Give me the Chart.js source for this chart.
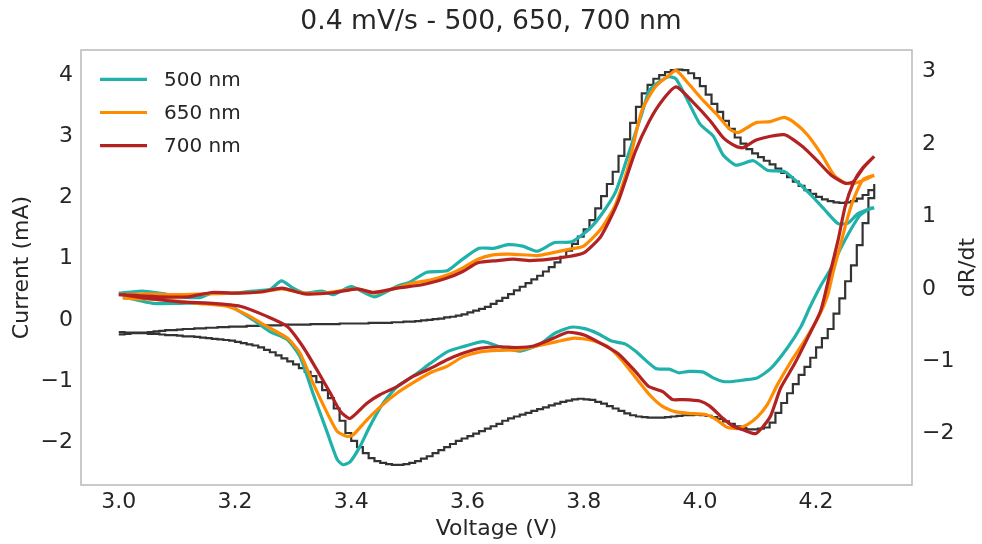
<!DOCTYPE html>
<html lang="en">
<head>
<meta charset="UTF-8">
<title>0.4 mV/s - 500, 650, 700 nm</title>
<script src="https://cdn.jsdelivr.net/npm/chart.js"></script>
<style>
    body { margin: 0; background: #fff; }
    canvas { display: block; }
</style>
</head>
<body>
<canvas id="cvChart" width="982" height="544"></canvas>
<script>
// cyclic voltammogram (left axis, mA) - forward and reverse scan, 10 mV steps
const voltFwd = [3.00,3.01,3.02,3.03,3.04,3.05,3.06,3.07,3.08,3.09,
    3.10,3.11,3.12,3.13,3.14,3.15,3.16,3.17,3.18,3.19,
    3.20,3.21,3.22,3.23,3.24,3.25,3.26,3.27,3.28,3.29,
    3.30,3.31,3.32,3.33,3.34,3.35,3.36,3.37,3.38,3.39,
    3.40,3.41,3.42,3.43,3.44,3.45,3.46,3.47,3.48,3.49,
    3.50,3.51,3.52,3.53,3.54,3.55,3.56,3.57,3.58,3.59,3.60,
    3.61,3.62,3.63,3.64,3.65,3.66,3.67,3.68,3.69,3.70,
    3.71,3.72,3.73,3.74,3.75,3.76,3.77,3.78,3.79,3.80,
    3.81,3.82,3.83,3.84,3.85,3.86,3.87,3.88,3.89,3.90,
    3.91,3.92,3.93,3.94,3.95,3.96,3.97,3.98,3.99,4.00,
    4.01,4.02,4.03,4.04,4.05,4.06,4.07,4.08,4.09,4.10,
    4.11,4.12,4.13,4.14,4.15,4.16,4.17,4.18,4.19,4.20,
    4.21,4.22,4.23,4.24,4.25,4.26,4.27,4.28,4.29,4.30];
const currentFwd = [-0.24,-0.23,-0.22,-0.21,-0.21,-0.20,-0.19,-0.18,-0.17,-0.17,
    -0.16,-0.15,-0.15,-0.14,-0.14,-0.13,-0.13,-0.12,-0.12,-0.11,
    -0.11,-0.11,-0.10,-0.10,-0.10,-0.09,-0.09,-0.09,-0.08,-0.08,
    -0.08,-0.08,-0.08,-0.07,-0.07,-0.07,-0.07,-0.07,-0.06,-0.06,
    -0.06,-0.06,-0.06,-0.05,-0.05,-0.05,-0.05,-0.04,-0.04,-0.03,
    -0.03,-0.02,-0.01,0.00,0.01,0.02,0.04,0.05,0.07,0.09,0.12,
    0.15,0.18,0.21,0.26,0.31,0.36,0.42,0.48,0.54,0.60,
    0.66,0.72,0.79,0.86,0.94,1.03,1.13,1.24,1.36,1.48,
    1.63,1.82,2.02,2.22,2.42,2.68,2.95,3.22,3.48,3.70,
    3.84,3.94,4.00,4.05,4.08,4.09,4.08,4.03,3.95,3.82,
    3.68,3.53,3.40,3.25,3.12,2.98,2.88,2.79,2.72,2.66,
    2.60,2.54,2.47,2.40,2.33,2.26,2.19,2.12,2.06,2.01,
    1.97,1.94,1.92,1.91,1.92,1.94,1.98,2.04,2.12,2.22];
const voltRev = [4.30,4.29,4.28,4.27,4.26,4.25,4.24,4.23,4.22,4.21,
    4.20,4.19,4.18,4.17,4.16,4.15,4.14,4.13,4.12,4.11,
    4.10,4.09,4.08,4.07,4.06,4.05,4.04,4.03,4.02,4.01,
    4.00,3.99,3.98,3.97,3.96,3.95,3.94,3.93,3.92,3.91,
    3.90,3.89,3.88,3.87,3.86,3.85,3.84,3.83,3.82,3.81,
    3.80,3.79,3.78,3.77,3.76,3.75,3.74,3.73,3.72,3.71,
    3.70,3.69,3.68,3.67,3.66,3.65,3.64,3.63,3.62,3.61,
    3.60,3.59,3.58,3.57,3.56,3.55,3.54,3.53,3.52,3.51,
    3.50,3.49,3.48,3.47,3.46,3.45,3.44,3.43,3.42,3.41,
    3.40,3.39,3.38,3.37,3.36,3.35,3.34,3.33,3.32,3.31,
    3.30,3.29,3.28,3.27,3.26,3.25,3.24,3.23,3.22,3.21,
    3.20,3.19,3.18,3.17,3.16,3.15,3.14,3.13,3.12,3.11,
    3.10,3.09,3.08,3.07,3.06,3.05,3.04,3.03,3.02,3.01,3.00];
const currentRev = [1.99,1.58,1.22,0.89,0.63,0.35,0.10,-0.15,-0.30,-0.45,
    -0.62,-0.77,-0.90,-1.05,-1.20,-1.36,-1.52,-1.68,-1.76,-1.78,
    -1.79,-1.79,-1.77,-1.74,-1.70,-1.66,-1.62,-1.59,-1.57,-1.56,
    -1.55,-1.56,-1.56,-1.57,-1.58,-1.59,-1.60,-1.60,-1.60,-1.59,
    -1.58,-1.56,-1.53,-1.49,-1.45,-1.41,-1.37,-1.34,-1.31,-1.30,
    -1.29,-1.30,-1.32,-1.34,-1.37,-1.40,-1.43,-1.46,-1.49,-1.52,
    -1.55,-1.58,-1.61,-1.65,-1.70,-1.74,-1.78,-1.82,-1.86,-1.90,
    -1.94,-1.98,-2.03,-2.08,-2.13,-2.18,-2.23,-2.27,-2.31,-2.34,
    -2.36,-2.37,-2.37,-2.36,-2.34,-2.31,-2.26,-2.18,-2.08,-1.98,
    -1.85,-1.65,-1.45,-1.28,-1.15,-1.02,-0.92,-0.85,-0.79,-0.73,
    -0.68,-0.63,-0.58,-0.53,-0.49,-0.45,-0.42,-0.40,-0.38,-0.36,
    -0.34,-0.33,-0.32,-0.31,-0.30,-0.29,-0.28,-0.27,-0.27,-0.26,
    -0.25,-0.25,-0.24,-0.23,-0.23,-0.22,-0.22,-0.21,-0.21,-0.20,-0.20];

// dR/dt (right axis) for each wavelength
const v500Fwd = [3.00,3.04,3.07,3.11,3.14,3.16,3.20,3.23,3.26,3.28,3.30,3.32,3.35,3.37,3.40,3.44,3.48,3.50,3.53,3.565,
    3.59,3.62,3.645,3.67,3.695,3.72,3.75,3.78,3.81,3.83,3.855,3.875,3.90,3.913,3.93,3.947,3.959,3.976,4.00,4.023,
    4.04,4.062,4.092,4.116,4.145,4.167,4.191,4.214,4.238,4.255,4.272,4.29,4.30];
const dR500Fwd = [-0.06,-0.03,-0.06,-0.11,-0.12,-0.06,-0.06,-0.03,-0.01,0.11,0.01,-0.06,-0.03,-0.08,0.03,-0.11,0.04,0.09,0.23,0.25,
    0.40,0.56,0.56,0.61,0.59,0.52,0.64,0.65,0.83,1.02,1.34,1.81,2.42,2.74,2.86,2.93,2.90,2.65,2.28,2.11,
    1.85,1.71,1.77,1.64,1.62,1.48,1.30,1.10,0.90,0.91,1.04,1.10,1.12];
const v500Rev = [4.30,4.293,4.276,4.259,4.241,4.224,4.207,4.19,4.174,4.151,4.122,4.099,4.075,4.057,4.04,4.023,4.006,3.981,3.964,3.947,
    3.924,3.889,3.871,3.848,3.825,3.802,3.778,3.749,3.726,3.691,3.656,3.627,3.592,3.565,3.536,3.506,3.479,3.455,3.432,3.415,
    3.398,3.386,3.376,3.359,3.334,3.312,3.29,3.26,3.231,3.192,3.152,3.105,3.059,3.007];
const dR500Rev = [1.12,1.11,1.02,0.81,0.54,0.26,0.03,-0.24,-0.52,-0.81,-1.10,-1.23,-1.26,-1.28,-1.28,-1.23,-1.15,-1.14,-1.16,-1.11,
    -1.10,-0.86,-0.76,-0.72,-0.62,-0.55,-0.53,-0.62,-0.76,-0.86,-0.80,-0.73,-0.80,-0.87,-1.03,-1.21,-1.35,-1.58,-1.90,-2.18,
    -2.39,-2.43,-2.36,-1.99,-1.44,-0.94,-0.70,-0.59,-0.43,-0.24,-0.20,-0.20,-0.20,-0.11];

const v650Fwd = [3.00,3.05,3.10,3.15,3.20,3.25,3.28,3.32,3.36,3.41,3.44,3.48,3.506,3.536,3.565,3.592,3.618,3.644,3.673,3.72,
    3.742,3.777,3.80,3.83,3.854,3.876,3.90,3.923,3.947,3.959,3.981,4.006,4.028,4.052,4.066,4.086,4.098,4.121,4.145,4.162,
    4.185,4.209,4.231,4.25,4.267,4.284,4.30];
const dR650Fwd = [-0.08,-0.07,-0.08,-0.07,-0.06,-0.04,0.00,-0.06,-0.05,0.00,-0.06,0.02,0.08,0.12,0.19,0.29,0.41,0.47,0.48,0.46,
    0.49,0.55,0.59,0.83,1.15,1.67,2.46,2.79,2.95,3.02,2.83,2.60,2.42,2.20,2.16,2.25,2.30,2.31,2.37,2.30,
    2.13,1.86,1.57,1.46,1.46,1.51,1.57];
const v650Rev = [4.30,4.281,4.264,4.253,4.241,4.229,4.219,4.204,4.18,4.157,4.133,4.116,4.099,4.081,4.064,4.046,4.029,4.011,3.981,3.959,
    3.935,3.913,3.889,3.866,3.842,3.813,3.784,3.754,3.726,3.691,3.656,3.622,3.592,3.565,3.536,3.506,3.479,3.45,3.427,3.403,
    3.393,3.376,3.359,3.334,3.312,3.29,3.255,3.221,3.186,3.135,3.076,3.007];
const dR650Rev = [1.57,1.51,1.23,0.95,0.58,0.22,-0.11,-0.39,-0.72,-1.00,-1.33,-1.60,-1.77,-1.88,-1.93,-1.91,-1.81,-1.74,-1.72,-1.70,
    -1.62,-1.46,-1.22,-0.99,-0.80,-0.71,-0.68,-0.73,-0.78,-0.84,-0.85,-0.87,-0.94,-1.07,-1.16,-1.30,-1.44,-1.63,-1.81,-2.02,
    -2.04,-1.97,-1.72,-1.30,-0.89,-0.68,-0.52,-0.36,-0.24,-0.20,-0.15,-0.13];

const v700Fwd = [3.00,3.07,3.12,3.16,3.205,3.247,3.281,3.32,3.372,3.41,3.438,3.479,3.524,3.565,3.592,3.618,3.651,3.679,3.708,3.742,
    3.777,3.801,3.83,3.859,3.889,3.913,3.935,3.959,3.988,4.018,4.04,4.062,4.074,4.098,4.145,4.179,4.203,4.226,4.25,4.264,
    4.281,4.30];
const dR700Fwd = [-0.08,-0.11,-0.11,-0.05,-0.06,-0.04,0.01,-0.07,-0.05,0.00,-0.05,0.01,0.06,0.15,0.24,0.36,0.39,0.41,0.39,0.41,
    0.45,0.50,0.73,1.20,1.90,2.32,2.60,2.79,2.58,2.32,2.09,1.97,1.95,2.06,2.13,1.95,1.76,1.57,1.46,1.48,
    1.67,1.83];
const v700Rev = [4.30,4.28,4.265,4.25,4.238,4.224,4.208,4.186,4.162,4.139,4.122,4.11,4.096,4.075,4.058,4.04,4.017,4.00,3.971,3.953,
    3.936,3.912,3.889,3.86,3.831,3.802,3.773,3.743,3.714,3.685,3.656,3.622,3.592,3.565,3.536,3.506,3.479,3.45,3.427,3.398,
    3.381,3.364,3.341,3.317,3.29,3.255,3.209,3.162,3.105,3.048,3.007];
const dR700Rev = [1.83,1.67,1.48,1.14,0.68,0.22,-0.30,-0.67,-1.05,-1.37,-1.75,-1.89,-2.00,-1.95,-1.90,-1.79,-1.62,-1.55,-1.53,-1.53,
    -1.42,-1.35,-1.14,-0.90,-0.76,-0.64,-0.60,-0.70,-0.79,-0.81,-0.80,-0.82,-0.89,-0.98,-1.10,-1.21,-1.35,-1.46,-1.58,-1.79,
    -1.69,-1.44,-1.12,-0.80,-0.52,-0.38,-0.24,-0.20,-0.18,-0.13,-0.08];

const seriesLabels = ['500 nm', '650 nm', '700 nm'];
const seriesColors = ['#20b2aa', '#ff8c00', '#b22222'];

const xTicks = { min: 2.935, max: 4.365, step: 0.2 };
const currentAxis = { min: -2.70, max: 4.41 };
const dRAxis = { min: -2.71, max: 3.30 };

const textColor = '#262626';
const fontFamily = "'DejaVu Sans', sans-serif";

function toPoints(xs, ys) {
    return xs.map((x, i) => ({ x: x, y: ys[i] }));
}
function minusSign(v) {
    return String(v).replace('-', '\u2212');
}

const loops = [
    toPoints(v500Fwd, dR500Fwd).concat(toPoints(v500Rev, dR500Rev)),
    toPoints(v650Fwd, dR650Fwd).concat(toPoints(v650Rev, dR650Rev)),
    toPoints(v700Fwd, dR700Fwd).concat(toPoints(v700Rev, dR700Rev))
];

const datasets = loops.map((pts, i) => ({
    label: seriesLabels[i],
    data: pts,
    yAxisID: 'y2',
    borderColor: seriesColors[i],
    borderWidth: 3.2,
    pointRadius: 0,
    tension: 0.2,
    fill: false,
    order: 3 - i
}));
datasets.push({
    label: 'current',
    data: toPoints(voltFwd, currentFwd).concat(toPoints(voltRev, currentRev)),
    yAxisID: 'y',
    borderColor: '#333333',
    borderWidth: 2.2,
    pointRadius: 0,
    stepped: true,
    fill: false,
    order: 10
});

// frame, in-plot legend and right axis label
const extras = {
    id: 'extras',
    afterDraw(chart) {
        const ctx = chart.ctx;
        const a = chart.chartArea;
        ctx.save();
        ctx.strokeStyle = '#bdbdbd';
        ctx.lineWidth = 1.6;
        ctx.strokeRect(a.left, a.top, a.right - a.left, a.bottom - a.top);

        ctx.font = '20px ' + fontFamily;
        ctx.textBaseline = 'middle';
        ctx.textAlign = 'left';
        seriesLabels.forEach((lab, i) => {
            const y = 79.3 + i * 33.2;
            ctx.strokeStyle = seriesColors[i];
            ctx.lineWidth = 3.2;
            ctx.beginPath();
            ctx.moveTo(100, y);
            ctx.lineTo(147, y);
            ctx.stroke();
            ctx.fillStyle = textColor;
            ctx.fillText(lab, 164, y + 1);
        });

        ctx.translate(968, (a.top + a.bottom) / 2);
        ctx.rotate(-Math.PI / 2);
        ctx.textAlign = 'center';
        ctx.font = '22px ' + fontFamily;
        ctx.fillText('dR/dt', 0, 0);
        ctx.restore();
    }
};

Chart.defaults.font.family = fontFamily;
Chart.defaults.color = textColor;

new Chart(document.getElementById('cvChart'), {
    type: 'line',
    data: { datasets: datasets },
    options: {
        responsive: false,
        animation: false,
        layout: { padding: 0 },
        plugins: {
            legend: { display: false },
            tooltip: { enabled: false },
            title: {
                display: true,
                text: '0.4 mV/s - 500, 650, 700 nm',
                color: textColor,
                font: { size: 26.6, weight: 'normal' },
                padding: { top: 6, bottom: 12.08 }
            }
        },
        scales: {
            x: {
                type: 'linear',
                min: xTicks.min,
                max: xTicks.max,
                grid: { display: false, drawTicks: false },
                border: { display: false },
                ticks: {
                    stepSize: xTicks.step,
                    includeBounds: false,
                    padding: 4,
                    font: { size: 22 },
                    callback: v => v.toFixed(1)
                },
                title: {
                    display: true,
                    text: 'Voltage (V)',
                    font: { size: 22 },
                    padding: { top: 0, bottom: 1.8 }
                },
                afterFit: s => { s.height = 59; }
            },
            y: {
                type: 'linear',
                position: 'left',
                min: currentAxis.min,
                max: currentAxis.max,
                grid: { display: false, drawTicks: false },
                border: { display: false },
                ticks: {
                    stepSize: 1,
                    includeBounds: false,
                    padding: 8,
                    font: { size: 22 },
                    callback: v => minusSign(v)
                },
                title: {
                    display: true,
                    text: 'Current (mA)',
                    font: { size: 22 },
                    padding: { top: 8.8, bottom: 0 }
                },
                afterFit: s => { s.width = 81; }
            },
            y2: {
                type: 'linear',
                position: 'right',
                min: dRAxis.min,
                max: dRAxis.max,
                grid: { display: false, drawTicks: false },
                border: { display: false },
                ticks: {
                    stepSize: 1,
                    includeBounds: false,
                    padding: 10,
                    font: { size: 22 },
                    callback: v => minusSign(v)
                },
                afterFit: s => { s.width = 70; }
            }
        }
    },
    plugins: [extras]
});
</script>
</body>
</html>
